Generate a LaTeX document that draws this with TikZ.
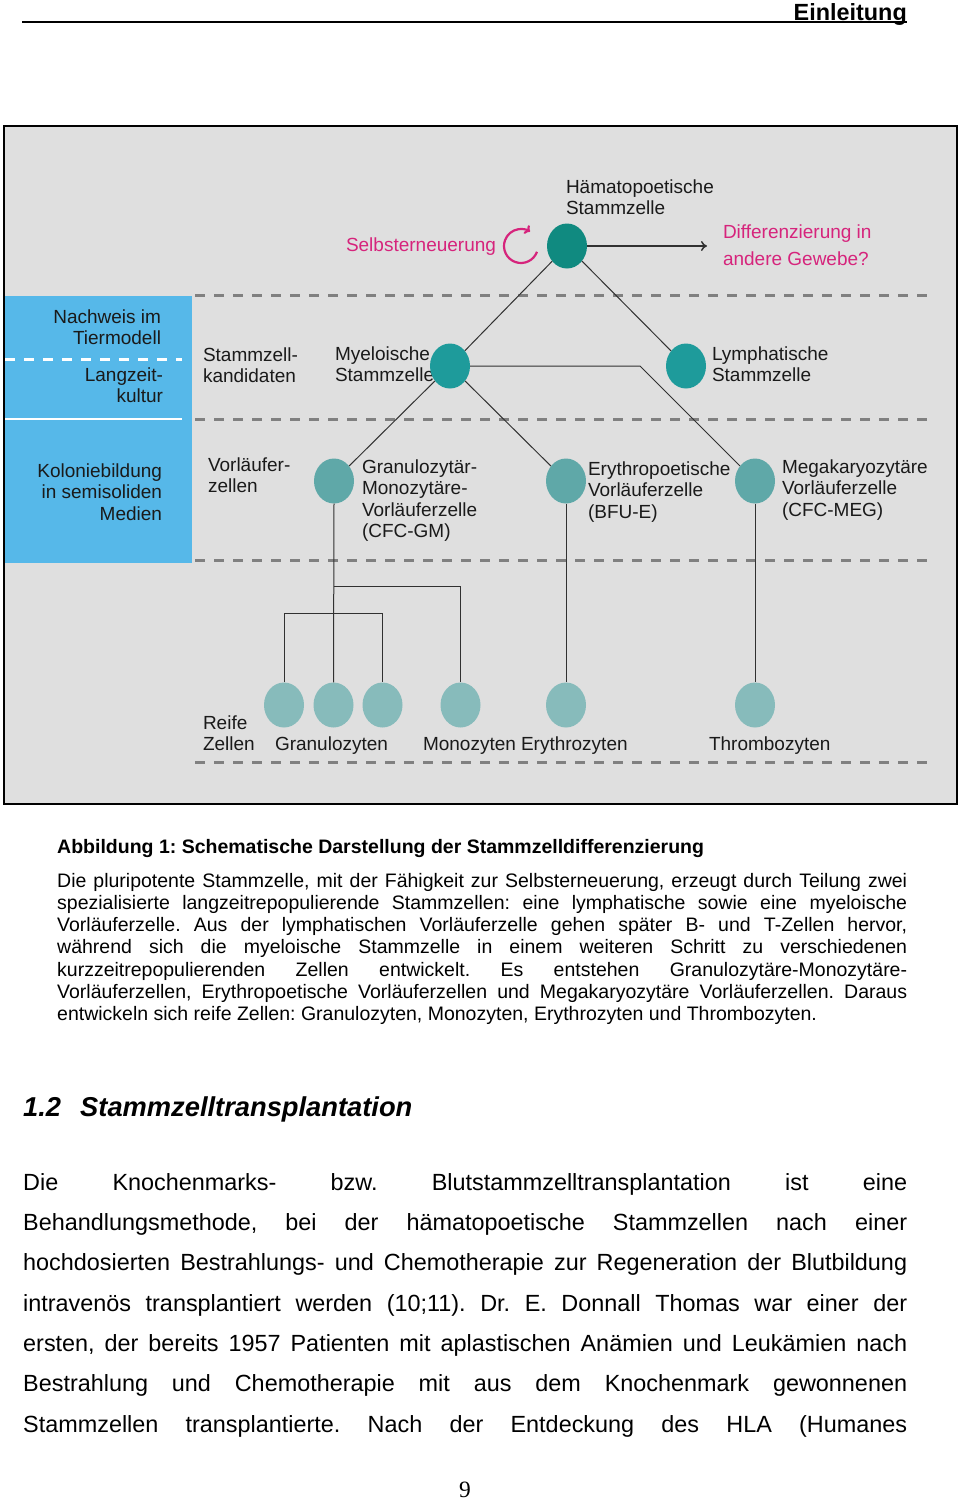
\documentclass[tikz,border=0pt]{standalone}
\usepackage{fontspec}
\setmainfont{Liberation Sans}
\newfontfamily\pnfont{Liberation Serif}
\usetikzlibrary{shapes.geometric,arrows.meta}
\definecolor{panelgray}{RGB}{223,223,223}
\definecolor{panelblue}{RGB}{86,184,233}
\definecolor{dashgray}{RGB}{128,128,128}
\definecolor{mag}{RGB}{214,36,124}
\definecolor{tealA}{RGB}{16,138,128}
\definecolor{tealB}{RGB}{30,155,155}
\definecolor{tealC}{RGB}{95,168,168}
\definecolor{tealD}{RGB}{135,187,187}
\definecolor{ink}{RGB}{26,26,26}
\newcommand{\mlines}[2]{\begin{tabular}[t]{@{}#1@{}}#2\end{tabular}}
\tikzset{
  cell/.style={ellipse, inner sep=0pt, minimum width=40pt, minimum height=45pt, draw=none},
  lbl/.style={anchor=base west, inner sep=0pt, outer sep=0pt, text=ink, font=\fontsize{19}{21.5}\selectfont},
  rlbl/.style={lbl, anchor=base east},
  maglbl/.style={lbl, text=mag},
  conn/.style={draw=ink!90, line width=1pt},
  sepline/.style={draw=dashgray, line width=3pt, dash pattern=on 10pt off 9pt},
  wsep/.style={draw=white, line width=3pt, dash pattern=on 10pt off 9pt},
  capline/.style={anchor=base west, inner sep=0pt, font=\fontsize{19.5}{22.4}\selectfont},
  bodyline/.style={anchor=base west, inner sep=0pt, font=\fontsize{23.4}{28}\selectfont},
}
\begin{document}
\frenchspacing
\begin{tikzpicture}[x=1pt,y=-1pt]
\useasboundingbox[fill=white] (0,0) rectangle (960,1500);

% header
\node[anchor=base east, inner sep=0pt, font=\bfseries\fontsize{23.4}{28}\selectfont] (hdr) at (907,20) {Einleitung};
\coordinate (hl) at (22,22);
\coordinate (hr) at (907,22);
\draw[line width=1.5pt] (hl) -- (hr);

% diagram frame and panels
\draw[fill=panelgray, line width=2.5pt] (4,126) rectangle (957,804);
\fill[panelblue] (5,296) rectangle (192,563);
\draw[wsep] (5,359) -- (182,359);
\draw[draw=white, line width=2.5pt] (5,419) -- (182,419);
\draw[sepline] (195,295) -- (932,295);
\draw[sepline] (195,419) -- (932,419);
\draw[sepline] (195,560) -- (932,560);
\draw[sepline] (195,762) -- (932,762);

% labels
\node[lbl] (lhsc) at (566,193) {\mlines{l}{Hämatopoetische\\Stammzelle}};
\node[maglbl, anchor=base east] (lself) at (496,251) {Selbsterneuerung};
\node[maglbl, font=\fontsize{19}{27}\selectfont] (ldiff) at (723,238) {\mlines{l}{Differenzierung in\\andere Gewebe?}};
\node[rlbl] (lnach) at (161,323) {\mlines{r}{Nachweis im\\Tiermodell}};
\node[rlbl] (llang) at (163,381) {\mlines{r}{Langzeit-\\kultur}};
\node[rlbl] (lkol) at (162,477) {\mlines{r}{Koloniebildung\\in semisoliden\\Medien}};
\node[lbl] (lkand) at (203,361) {\mlines{l}{Stammzell-\\kandidaten}};
\node[lbl] (lmye) at (335,360) {\mlines{l}{Myeloische\\Stammzelle}};
\node[lbl] (llym) at (712,360) {\mlines{l}{Lymphatische\\Stammzelle}};
\node[lbl] (lvor) at (208,471) {\mlines{l}{Vorläufer-\\zellen}};
\node[lbl] (lgm) at (362,473) {\mlines{l}{Granulozytär-\\Monozytäre-\\Vorläuferzelle\\(CFC-GM)}};
\node[lbl] (lery) at (588,475) {\mlines{l}{Erythropoetische\\Vorläuferzelle\\(BFU-E)}};
\node[lbl] (lmeg) at (782,473) {\mlines{l}{Megakaryozytäre\\Vorläuferzelle\\(CFC-MEG)}};
\node[lbl] (lreif) at (203,729) {\mlines{l}{Reife\\Zellen}};
\node[lbl] (lgran) at (275,750) {Granulozyten};
\node[lbl] (lmono) at (423,750) {Monozyten};
\node[lbl] (lerys) at (521,750) {Erythrozyten};
\node[lbl] (lthr) at (709,750) {Thrombozyten};

% cells
\node[cell, fill=tealA] (hsc) at (567,246) {};
\node[cell, fill=tealB] (mye) at (450,366) {};
\node[cell, fill=tealB] (lym) at (686,366) {};
\node[cell, fill=tealC] (gm) at (334,481) {};
\node[cell, fill=tealC] (ery) at (566,481) {};
\node[cell, fill=tealC] (meg) at (755,481) {};
\node[cell, fill=tealD] (g1) at (284,705) {};
\node[cell, fill=tealD] (g2) at (333.5,705) {};
\node[cell, fill=tealD] (g3) at (382.5,705) {};
\node[cell, fill=tealD] (mono) at (460.5,705) {};
\node[cell, fill=tealD] (erys) at (566,705) {};
\node[cell, fill=tealD] (thr) at (755,705) {};

% connectors
\coordinate (diffend) at (707,246);
\coordinate (mbend) at (640,366);
\coordinate (bmono) at (333.5,586);
\coordinate (bgran) at (333.5,613);
\coordinate (sr) at (521,246);
\draw[conn] (hsc) -- (mye);
\draw[conn] (hsc) -- (lym);
\draw[conn] (mye) -- (gm);
\draw[conn] (mye) -- (ery);
\draw[conn] (mye.east) -- (mbend) -- (meg);
\draw[conn] (gm.south) -- (g2.north);
\draw[conn] (bmono) -| (mono.north);
\draw[conn] (g1.north) |- (bgran) -| (g3.north);
\draw[conn] (ery) -- (erys);
\draw[conn] (meg) -- (thr);
\draw[conn, line width=1.5pt, -{To[length=6pt,width=10pt]}] (hsc.east) -- (diffend);
\draw[mag, line width=2.2pt, -{To[length=5pt,width=10pt]}] ([shift={(20:17)}]sr) arc[start angle=20, end angle=302, radius=17];

% caption
\node[capline, font=\bfseries\fontsize{19.5}{22.4}\selectfont] (captitle) at (57,853) {Abbildung 1: Schematische Darstellung der Stammzelldifferenzierung};
\node[capline] (c1) at (57,887) {\makebox[850pt][s]{Die pluripotente Stammzelle, mit der Fähigkeit zur Selbsterneuerung, erzeugt durch Teilung zwei}};
\node[capline] (c2) at (57,909.3) {\makebox[850pt][s]{spezialisierte langzeitrepopulierende Stammzellen: eine lymphatische sowie eine myeloische}};
\node[capline] (c3) at (57,931.6) {\makebox[850pt][s]{Vorläuferzelle. Aus der lymphatischen Vorläuferzelle gehen später B- und T-Zellen hervor,}};
\node[capline] (c4) at (57,953.9) {\makebox[850pt][s]{während sich die myeloische Stammzelle in einem weiteren Schritt zu verschiedenen}};
\node[capline] (c5) at (57,976.2) {\makebox[850pt][s]{kurzzeitrepopulierenden Zellen entwickelt. Es entstehen Granulozytäre-Monozytäre-}};
\node[capline] (c6) at (57,998.5) {\makebox[850pt][s]{Vorläuferzellen, Erythropoetische Vorläuferzellen und Megakaryozytäre Vorläuferzellen. Daraus}};
\node[capline] (c7) at (57,1020.8) {entwickeln sich reife Zellen: Granulozyten, Monozyten, Erythrozyten und Thrombozyten.};

% section heading
\node[anchor=base west, inner sep=0pt, font=\bfseries\itshape\fontsize{27.3}{32}\selectfont] (secnum) at (23,1116) {1.2};
\node[anchor=base west, inner sep=0pt, font=\bfseries\itshape\fontsize{27.3}{32}\selectfont] (sectitle) at (80,1116) {Stammzelltransplantation};

% body
\node[bodyline] (b1) at (23,1190) {\makebox[884pt][s]{Die Knochenmarks- bzw. Blutstammzelltransplantation ist eine}};
\node[bodyline] (b2) at (23,1230.4) {\makebox[884pt][s]{Behandlungsmethode, bei der hämatopoetische Stammzellen nach einer}};
\node[bodyline] (b3) at (23,1270.7) {\makebox[884pt][s]{hochdosierten Bestrahlungs- und Chemotherapie zur Regeneration der Blutbildung}};
\node[bodyline] (b4) at (23,1311.1) {\makebox[884pt][s]{intravenös transplantiert werden (10;11). Dr. E. Donnall Thomas war einer der}};
\node[bodyline] (b5) at (23,1351.4) {\makebox[884pt][s]{ersten, der bereits 1957 Patienten mit aplastischen Anämien und Leukämien nach}};
\node[bodyline] (b6) at (23,1391.8) {\makebox[884pt][s]{Bestrahlung und Chemotherapie mit aus dem Knochenmark gewonnenen}};
\node[bodyline] (b7) at (23,1432.1) {\makebox[884pt][s]{Stammzellen transplantierte. Nach der Entdeckung des HLA (Humanes}};

% page number
\node[anchor=base, inner sep=0pt, font=\pnfont\fontsize{23.4}{28}\selectfont] (pn) at (465,1497) {9};
\end{tikzpicture}
\end{document}
